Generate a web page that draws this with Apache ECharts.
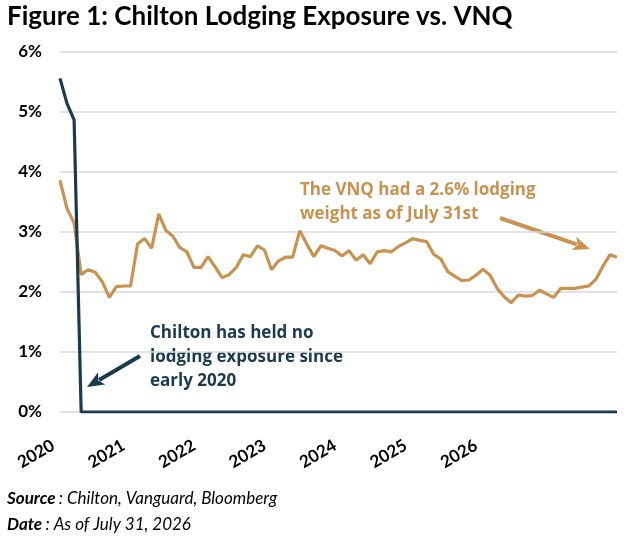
<!DOCTYPE html>
<html>
<head>
<meta charset="utf-8">
<script src="https://cdn.jsdelivr.net/npm/echarts@6/dist/echarts.min.js"></script>
<style>
  html, body { margin: 0; padding: 0; background: #fff; }
  #main { width: 624px; height: 540px; }
</style>
</head>
<body>
<div id="main"></div>
<script>
// tick labels on the x axis (one every 10 months)
var yearLabels = ['2020', '2021', '2022', '2023', '2024', '2025', '2026'];

// monthly categories, Dec 2019 .. Jul 2026
var months = [];
for (var i = 0; i < 80; i++) {
  var m = (11 + i) % 12, y = 2019 + Math.floor((11 + i) / 12);
  months.push(y + '-' + (m + 1));
}

// VNQ lodging weight (%)
var vnq = [
  3.86, 3.39, 3.15, 2.29, 2.37, 2.33, 2.17, 1.91, 2.09, 2.10,
  2.10, 2.80, 2.89, 2.73, 3.30, 3.03, 2.93, 2.74, 2.67, 2.41,
  2.41, 2.59, 2.42, 2.24, 2.29, 2.41, 2.62, 2.59, 2.77, 2.70,
  2.37, 2.52, 2.58, 2.58, 3.02, 2.80, 2.59, 2.77, 2.73, 2.69,
  2.60, 2.69, 2.53, 2.62, 2.47, 2.67, 2.69, 2.67, 2.76, 2.82,
  2.89, 2.86, 2.84, 2.63, 2.55, 2.34, 2.26, 2.19, 2.20, 2.28,
  2.38, 2.28, 2.06, 1.92, 1.82, 1.95, 1.93, 1.94, 2.03, 1.97,
  1.91, 2.06, 2.06, 2.06, 2.08, 2.10, 2.21, 2.43, 2.62, 2.58
];

// Chilton lodging exposure (%)
var chilton = [
  5.56, 5.14, 4.87, 0, 0, 0, 0, 0, 0, 0,
  0, 0, 0, 0, 0, 0, 0, 0, 0, 0,
  0, 0, 0, 0, 0, 0, 0, 0, 0, 0,
  0, 0, 0, 0, 0, 0, 0, 0, 0, 0,
  0, 0, 0, 0, 0, 0, 0, 0, 0, 0,
  0, 0, 0, 0, 0, 0, 0, 0, 0, 0,
  0, 0, 0, 0, 0, 0, 0, 0, 0, 0,
  0, 0, 0, 0, 0, 0, 0, 0, 0, 0
];

var TAN = '#c8924f';
var NAVY = '#1b3a4e';
var FONT = 'Lato, "Open Sans", sans-serif';
var NOTE_FONT = '"Open Sans", Lato, sans-serif';

// simple arrow: line plus filled head
function arrow(x1, y1, x2, y2, color) {
  var dx = x2 - x1, dy = y2 - y1;
  var len = Math.sqrt(dx * dx + dy * dy);
  var ux = dx / len, uy = dy / len;
  var hl = 17, hw = 7;
  var bx = x2 - ux * hl, by = y2 - uy * hl;
  return {
    type: 'group',
    children: [
      {
        type: 'line',
        shape: { x1: x1, y1: y1, x2: bx + ux * 3, y2: by + uy * 3 },
        style: { stroke: color, lineWidth: 4 }
      },
      {
        type: 'polygon',
        shape: { points: [[x2, y2], [bx - uy * hw, by + ux * hw], [bx + ux * 4, by + uy * 4], [bx + uy * hw, by - ux * hw]] },
        style: { fill: color }
      }
    ]
  };
}

var myChart = echarts.init(document.getElementById('main'));

var option = {
  animation: false,
  backgroundColor: '#fff',
  grid: { left: 60, right: 7, top: 52, bottom: 128 },
  xAxis: {
    type: 'category',
    data: months,
    boundaryGap: false,
    axisLine: { show: false },
    axisTick: { show: false },
    axisLabel: {
      interval: function (index) { return index % 10 === 0; },
      formatter: function (value, index) { return yearLabels[index / 10] || ''; },
      rotate: 30,
      margin: 28,
      padding: [0, 8, 0, 0],
      color: '#000',
      fontFamily: FONT,
      fontWeight: 'bold',
      fontSize: 17
    }
  },
  yAxis: {
    type: 'value',
    min: 0,
    max: 6,
    interval: 1,
    axisLine: { show: false },
    axisTick: { show: false },
    splitLine: { lineStyle: { color: '#d9d9d9', width: 1.5 } },
    axisLabel: {
      formatter: '{value}%',
      margin: 18,
      color: '#000',
      fontFamily: FONT,
      fontWeight: 'bold',
      fontSize: 17
    }
  },
  series: [
    {
      name: 'VNQ',
      type: 'line',
      data: vnq,
      symbol: 'none',
      lineStyle: { color: TAN, width: 3.2 }
    },
    {
      name: 'Chilton',
      type: 'line',
      data: chilton,
      symbol: 'none',
      lineStyle: { color: NAVY, width: 3.2 }
    }
  ],
  graphic: [
    {
      type: 'text', left: 7, top: 4,
      style: { text: 'Figure 1: Chilton Lodging Exposure vs. VNQ', fill: '#000', font: 'bold 26px ' + FONT }
    },
    {
      type: 'text', left: 300, top: 178,
      style: { text: 'The VNQ had a 2.6% lodging\nweight as of July 31st', fill: TAN, font: 'bold 17px ' + NOTE_FONT, lineHeight: 24 }
    },
    {
      type: 'text', left: 150, top: 321,
      style: { text: 'Chilton has held no\nlodging exposure since\nearly 2020', fill: NAVY, font: 'bold 17px ' + NOTE_FONT, lineHeight: 24 }
    },
    arrow(500, 218, 590, 249, TAN),
    arrow(140, 356, 87, 387, NAVY),
    {
      type: 'text', left: 7, top: 490,
      style: {
        text: '{b|Source} {n|: Chilton, Vanguard, Bloomberg}',
        rich: {
          b: { font: 'italic bold 17px ' + FONT, fill: '#000' },
          n: { font: 'italic 17px ' + FONT, fill: '#000' }
        }
      }
    },
    {
      type: 'text', left: 7, top: 516,
      style: {
        text: '{b|Date} {n|: As of July 31, 2026}',
        rich: {
          b: { font: 'italic bold 17px ' + FONT, fill: '#000' },
          n: { font: 'italic 17px ' + FONT, fill: '#000' }
        }
      }
    }
  ]
};

myChart.setOption(option);
</script>
</body>
</html>
